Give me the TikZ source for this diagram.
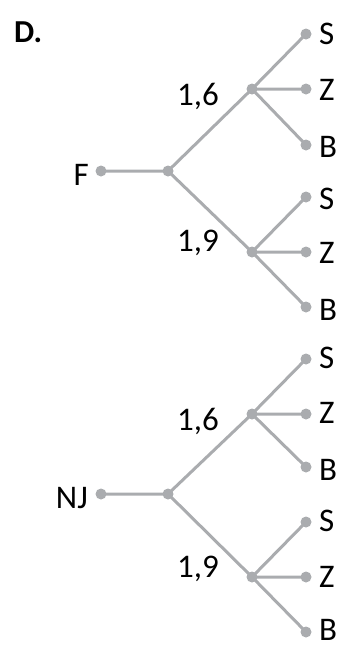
\documentclass[tikz,border=0pt]{standalone}
\usepackage{fontspec}
\setmainfont{Carlito}
\definecolor{treegray}{RGB}{170,172,175}
\begin{document}
\begin{tikzpicture}[x=1pt,y=-1pt,
  dot/.style={circle,fill=treegray,inner sep=0pt,minimum size=11pt},
  edge/.style={draw=treegray,line width=3pt},
  lbl/.style={inner sep=0pt,font=\fontsize{33}{38}\selectfont},
  leaftext/.style={lbl,anchor=base west}]
\useasboundingbox (0,0) rectangle (342,648);
\node[lbl,anchor=base west,font=\fontsize{32}{38}\selectfont\bfseries] (title) at (14,42) {D.};

% tree F
\node[dot] (fr) at (101,171) {};
\node[dot] (fm) at (168,171) {};
\node[dot] (fa) at (252,89) {};
\node[dot] (fb) at (252,252) {};
\node[dot] (fa1) at (306,34) {};
\node[dot] (fa2) at (306,89) {};
\node[dot] (fa3) at (306,145) {};
\node[dot] (fb1) at (306,197) {};
\node[dot] (fb2) at (306,252) {};
\node[dot] (fb3) at (306,307) {};
\node[lbl,anchor=base east] (ft) at (89,185) {F};
\node[lbl,anchor=base] (f16) at (198,105) {1,6};
\node[lbl,anchor=base] (f19) at (198,251) {1,9};
\node[leaftext] (fa1t) at (319,44) {S};
\node[leaftext] (fa2t) at (319,100) {Z};
\node[leaftext] (fa3t) at (319,157) {B};
\node[leaftext] (fb1t) at (319,209) {S};
\node[leaftext] (fb2t) at (319,263) {Z};
\node[leaftext] (fb3t) at (319,320) {B};
\path[edge] (fr.center) -- (fm.center)
  (fm.center) -- (fa.center) (fm.center) -- (fb.center)
  (fa.center) -- (fa1.center) (fa.center) -- (fa2.center) (fa.center) -- (fa3.center)
  (fb.center) -- (fb1.center) (fb.center) -- (fb2.center) (fb.center) -- (fb3.center);

% tree NJ
\node[dot] (nr) at (101,494) {};
\node[dot] (nm) at (168,494) {};
\node[dot] (na) at (252,414) {};
\node[dot] (nb) at (252,577) {};
\node[dot] (na1) at (306,359) {};
\node[dot] (na2) at (306,414) {};
\node[dot] (na3) at (306,467) {};
\node[dot] (nb1) at (306,522) {};
\node[dot] (nb2) at (306,577) {};
\node[dot] (nb3) at (306,632) {};
\node[lbl,anchor=base east] (nt) at (88,508) {NJ};
\node[lbl,anchor=base] (n16) at (198,430) {1,6};
\node[lbl,anchor=base] (n19) at (198,577) {1,9};
\node[leaftext] (na1t) at (319,368) {S};
\node[leaftext] (na2t) at (319,423) {Z};
\node[leaftext] (na3t) at (319,480) {B};
\node[leaftext] (nb1t) at (319,531) {S};
\node[leaftext] (nb2t) at (319,587) {Z};
\node[leaftext] (nb3t) at (319,640) {B};
\path[edge] (nr.center) -- (nm.center)
  (nm.center) -- (na.center) (nm.center) -- (nb.center)
  (na.center) -- (na1.center) (na.center) -- (na2.center) (na.center) -- (na3.center)
  (nb.center) -- (nb1.center) (nb.center) -- (nb2.center) (nb.center) -- (nb3.center);
\end{tikzpicture}
\end{document}
